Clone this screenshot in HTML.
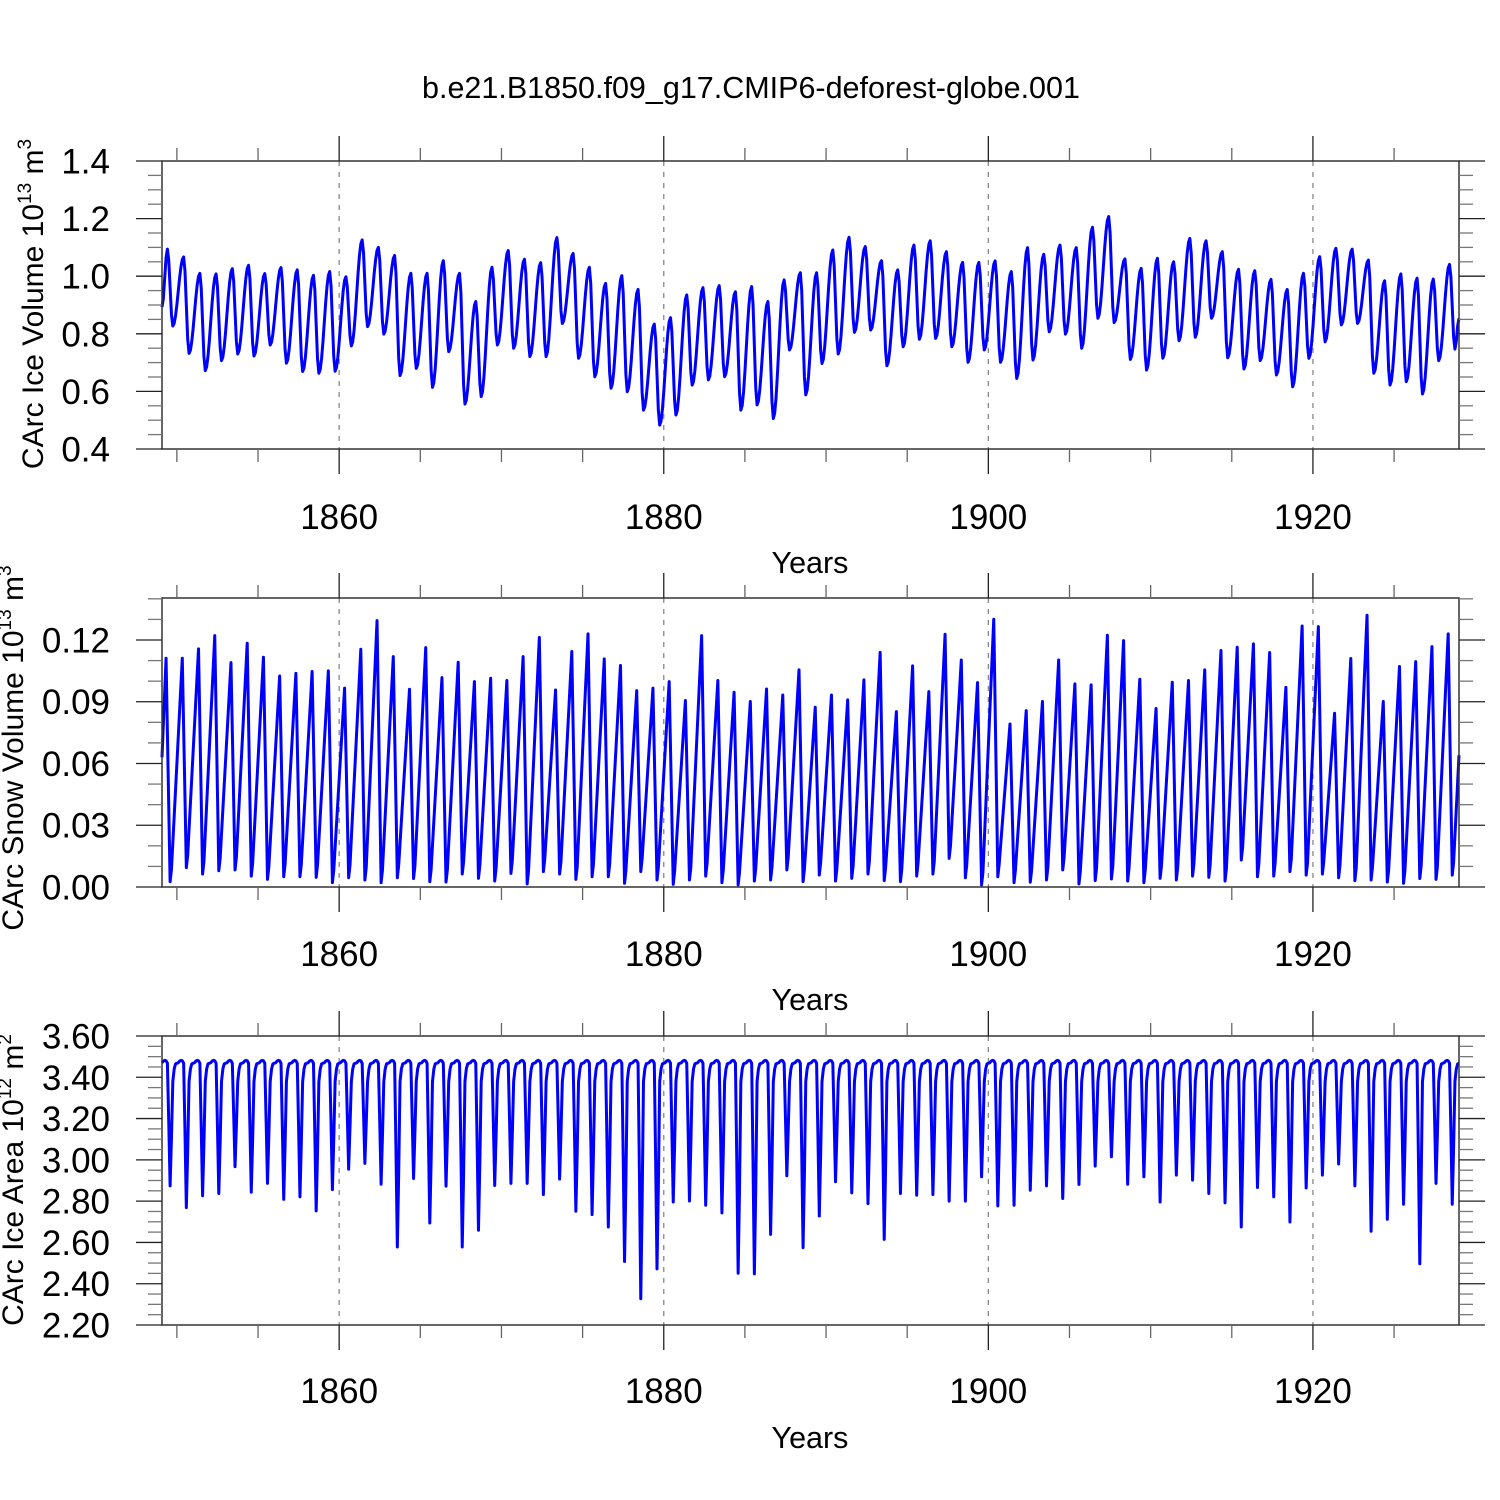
<!DOCTYPE html>
<html><head><meta charset="utf-8">
<style>
html,body{margin:0;padding:0;background:#fff;}
svg{display:block;font-family:"Liberation Sans",Arial,sans-serif;}
</style></head>
<body>
<svg id="chart" width="1500" height="1500" viewBox="0 0 1500 1500" xmlns="http://www.w3.org/2000/svg">
<rect x="0" y="0" width="1500" height="1500" fill="#fff"/>
<text x="751" y="98" font-size="30.5" text-anchor="middle" fill="#000">b.e21.B1850.f09_g17.CMIP6-deforest-globe.001</text>
</svg>
<script>
// ---- data ----
const years = [];
for (let y = 1849; y <= 1928; y++) years.push(y);
const xTickLabels = ["1860","1880","1900","1920"];

const iceVolPeaks = [1.094,1.067,1.010,1.008,1.026,1.038,1.009,1.030,1.022,1.003,1.016,0.998,1.126,1.100,1.072,1.010,1.010,1.054,1.010,0.912,1.031,1.089,1.059,1.047,1.134,1.079,1.031,0.975,1.002,0.954,0.834,0.856,0.935,0.960,0.967,0.946,0.964,0.912,0.987,1.012,
1.012,1.091,1.135,1.103,1.054,1.022,1.108,1.123,1.085,1.048,1.048,1.053,1.016,1.099,1.076,1.108,1.099,1.170,1.207,1.060,1.027,1.062,1.050,1.131,1.123,1.085,1.024,1.019,0.989,0.954,1.010,1.068,1.097,1.094,1.056,0.984,1.008,0.993,0.990,1.041];
const iceVolTroughs = [0.827,0.732,0.672,0.707,0.730,0.723,0.761,0.698,0.669,0.663,0.670,0.758,0.825,0.799,0.655,0.680,0.614,0.738,0.556,0.582,0.761,0.750,0.721,0.721,0.836,0.715,0.651,0.611,0.599,0.535,0.483,0.518,0.622,0.640,0.651,0.535,0.553,0.506,0.744,0.588,
0.697,0.730,0.805,0.813,0.689,0.755,0.781,0.784,0.755,0.701,0.744,0.701,0.645,0.709,0.807,0.799,0.750,0.854,0.839,0.711,0.674,0.715,0.776,0.788,0.854,0.717,0.678,0.707,0.657,0.616,0.715,0.772,0.831,0.836,0.663,0.622,0.634,0.591,0.707,0.747];
const iceVolStartEnd = [0.893, 0.854];
const iceVolTicks = ["0.4","0.6","0.8","1.0","1.2","1.4"];

const snowPeaks = [0.1111,0.1111,0.1157,0.1221,0.1090,0.1184,0.1116,0.1025,0.1038,0.1047,0.1050,0.0966,0.1155,0.1294,0.1119,0.0961,0.1163,0.1017,0.1092,0.0998,0.1014,0.1003,0.1119,0.1212,0.0957,0.1144,0.1230,0.1108,0.1076,0.0954,0.0966,0.0998,0.0906,0.1221,0.1003,0.0946,0.0901,0.0962,0.0933,0.1055,
0.0873,0.0933,0.0909,0.1006,0.1140,0.0852,0.1074,0.0949,0.1228,0.1103,0.0993,0.1301,0.0792,0.0857,0.0901,0.1103,0.0987,0.0982,0.1223,0.1197,0.1009,0.0867,0.0995,0.1003,0.1055,0.1149,0.1165,0.1181,0.1139,0.0970,0.1268,0.1265,0.0844,0.1110,0.1320,0.0901,0.1071,0.1095,0.1168,0.1230];
const snowMins = [0.0026,0.0094,0.0063,0.0079,0.0083,0.0053,0.0037,0.0050,0.0050,0.0047,0.0021,0.0045,0.0034,0.0021,0.0045,0.0041,0.0026,0.0024,0.0063,0.0042,0.0029,0.0066,0.0015,0.0075,0.0063,0.0037,0.0050,0.0050,0.0018,0.0075,0.0034,0.0013,0.0034,0.0053,0.0021,0.0010,0.0029,0.0034,0.0083,0.0026,
0.0058,0.0029,0.0042,0.0063,0.0031,0.0026,0.0053,0.0063,0.0139,0.0045,0.0010,0.0050,0.0021,0.0023,0.0034,0.0083,0.0015,0.0031,0.0039,0.0029,0.0021,0.0042,0.0034,0.0053,0.0047,0.0029,0.0131,0.0050,0.0053,0.0075,0.0058,0.0063,0.0045,0.0031,0.0034,0.0024,0.0018,0.0041,0.0037,0.0058];
const snowStartEnd = [0.063, 0.064];
const snowTicks = ["0.00","0.03","0.06","0.09","0.12"];

const areaMins = [2.874,2.769,2.826,2.837,2.967,2.843,2.886,2.809,2.821,2.753,2.856,2.955,2.983,2.882,2.578,2.910,2.694,2.873,2.578,2.659,2.876,2.886,2.886,2.832,2.907,2.751,2.735,2.675,2.508,2.327,2.472,2.796,2.801,2.780,2.743,2.451,2.448,2.639,2.923,2.575,
2.728,2.894,2.840,2.788,2.615,2.837,2.829,2.832,2.800,2.800,2.918,2.777,2.780,2.853,2.874,2.813,2.881,2.970,3.015,2.882,2.918,2.796,2.926,2.902,2.837,2.792,2.675,2.866,2.821,2.699,2.864,2.926,2.980,2.874,2.654,2.712,2.785,2.497,2.886,2.785];
const areaPlateau = [3.470,3.478,3.482,3.480,3.468,3.430,null,null,null,3.440,3.465,3.468];
const areaTicks = ["2.20","2.40","2.60","2.80","3.00","3.20","3.40","3.60"];

// ---- layout ----
const NS = "http://www.w3.org/2000/svg";
const svg = document.getElementById("chart");
const X0 = 162, X1 = 1459, T0 = 1849 + 1/12, T1 = 1929.0;
function xs(t){ return X0 + (t - T0) / (T1 - T0) * (X1 - X0); }
function mk(tag, attrs, parent){
  const e = document.createElementNS(NS, tag);
  for (const k in attrs) e.setAttribute(k, attrs[k]);
  (parent || svg).appendChild(e);
  return e;
}
function interp(nodes, t, cosine){
  for (let i = 0; i < nodes.length - 1; i++){
    const a = nodes[i], b = nodes[i+1];
    if (t >= a[0] - 1e-9 && t <= b[0] + 1e-9){
      let f = (t - a[0]) / (b[0] - a[0]);
      if (cosine) f = (1 - Math.cos(Math.PI * f)) / 2;
      return a[1] + (b[1] - a[1]) * f;
    }
  }
  return nodes[nodes.length-1][1];
}
function monthlyFromNodes(nodes, cosine){
  const pts = [];
  years.forEach(y => { for (let m = 0; m < 12; m++){ const t = y + (m+1)/12; pts.push([t, interp(nodes, t, cosine)]); } });
  return pts;
}

const panels = [
  {id:"ice-volume", top:161, bot:449, ymin:0.4, ymax:1.4, major:0.2, minor:0.05, ticks:iceVolTicks,
   xlabY:529, yearsY:573, titleX:32, titleY:304, title:"CArc Ice Volume 10", sup:"13", unit:" m", usup:"3"},
  {id:"snow-volume", top:598, bot:887, ymin:0, ymax:0.1404, major:0.03, minor:0.01, ticks:snowTicks,
   xlabY:966, yearsY:1010, titleX:12, titleY:748, title:"CArc Snow Volume 10", sup:"13", unit:" m", usup:"3"},
  {id:"ice-area", top:1036, bot:1325, ymin:2.2, ymax:3.6, major:0.2, minor:0.05, ticks:areaTicks,
   xlabY:1403, yearsY:1448, titleX:12, titleY:1180, title:"CArc Ice Area 10", sup:"12", unit:" m", usup:"2"}
];

// series construction
const iceNodes = [[T0, iceVolStartEnd[0]]];
years.forEach((y,i) => { iceNodes.push([y + 5/12, iceVolPeaks[i]]); iceNodes.push([y + 9/12, iceVolTroughs[i]]); });
iceNodes.push([T1, iceVolStartEnd[1]]);
const snowNodes = [[T0, snowStartEnd[0]]];
years.forEach((y,i) => { snowNodes.push([y + 4/12, snowPeaks[i]]); snowNodes.push([y + 7/12, snowMins[i]]); snowNodes.push([y + 8/12, snowMins[i] + 0.006]); });
snowNodes.push([T1, snowStartEnd[1]]);
const areaPts = [];
years.forEach((y,i) => {
  for (let m = 0; m < 12; m++){
    let v = areaPlateau[m];
    if (m === 6) v = areaMins[i];
    else if (m === 7) v = areaMins[i] + 0.4 * (3.46 - areaMins[i]);
    else if (m === 8) v = 3.38;
    else if (m === 5) v = areaMins[i] + 0.55 * (3.43 - areaMins[i]);
    areaPts.push([y + (m+1)/12, v]);
  }
});
const series = [monthlyFromNodes(iceNodes, true), monthlyFromNodes(snowNodes, false), areaPts];

panels.forEach((p, pi) => {
  const g = mk("g", {});
  
  
  const ys = v => p.bot - (v - p.ymin) / (p.ymax - p.ymin) * (p.bot - p.top);
  xTickLabels.forEach(lbl => {
    const x = xs(+lbl);
    const gl = mk("line", {x1:x, x2:x, y1:p.top, y2:p.bot, stroke:"#888", "stroke-width":1.3, "stroke-dasharray":"5,6"}, g);
    
    
  });
  const d = series[pi].map((q,k) => (k ? "L" : "M") + xs(q[0]).toFixed(2) + "," + ys(q[1]).toFixed(2)).join("");
  const path = mk("path", {d:d, fill:"none", stroke:"#0000ff", "stroke-width":3, "stroke-linejoin":"round"}, g);
  
  
  const fr = mk("rect", {x:X0, y:p.top, width:X1-X0, height:p.bot-p.top, fill:"none", stroke:"#333", "stroke-width":1.5}, g);
  
  
  for (let yr = 1850; yr <= 1925; yr += 5){
    const x = xs(yr), maj = yr % 20 === 0;
    const L = maj ? 25 : 13;
    mk("line", {x1:x, x2:x, y1:p.top, y2:p.top - L, stroke: maj ? "#222" : "#666", "stroke-width":1.3}, g);
    mk("line", {x1:x, x2:x, y1:p.bot, y2:p.bot + L, stroke: maj ? "#222" : "#666", "stroke-width":1.3}, g);
  }
  xTickLabels.forEach(lbl => {
    const t = mk("text", {x:xs(+lbl), y:p.xlabY, "font-size":35, "text-anchor":"middle", fill:"#000"}, g);
    t.textContent = lbl;
    
    
  });
  const yt = mk("text", {x:810, y:p.yearsY, "font-size":30.5, "text-anchor":"middle", fill:"#000"}, g);
  yt.textContent = "Years";
  
  
  const nMinor = Math.round((p.ymax - p.ymin) / p.minor + 1e-6);
  for (let k = 0; k <= nMinor; k++){
    const v = p.ymin + k * p.minor;
    if (v > p.ymax + 1e-9) break;
    const y = ys(v);
    const isMaj = Math.abs((v - p.ymin) / p.major - Math.round((v - p.ymin) / p.major)) < 1e-6;
    const L = isMaj ? 26 : 14;
    mk("line", {x1:X0, x2:X0 - L, y1:y, y2:y, stroke: isMaj ? "#222" : "#777", "stroke-width":1.3}, g);
    mk("line", {x1:X1, x2:X1 + L, y1:y, y2:y, stroke: isMaj ? "#222" : "#777", "stroke-width":1.3}, g);
  }
  p.ticks.forEach(lbl => {
    const t = mk("text", {x:110, y:ys(+lbl) + 12.5, "font-size":35, "text-anchor":"end", fill:"#000"}, g);
    t.textContent = lbl;
    
    
  });
  const tt = mk("text", {x:0, y:0, "font-size":30, "text-anchor":"middle", fill:"#000",
    transform:"translate(" + (p.titleX + 11) + "," + p.titleY + ") rotate(-90)"}, g);
  
  
  const s1 = mk("tspan", {}, tt); s1.textContent = p.title;
  const s2 = mk("tspan", {dy:-12, "font-size":19}, tt); s2.textContent = p.sup;
  const s3 = mk("tspan", {dy:12}, tt); s3.textContent = p.unit;
  const s4 = mk("tspan", {dy:-12, "font-size":19}, tt); s4.textContent = p.usup;
});
</script>
</body></html>
